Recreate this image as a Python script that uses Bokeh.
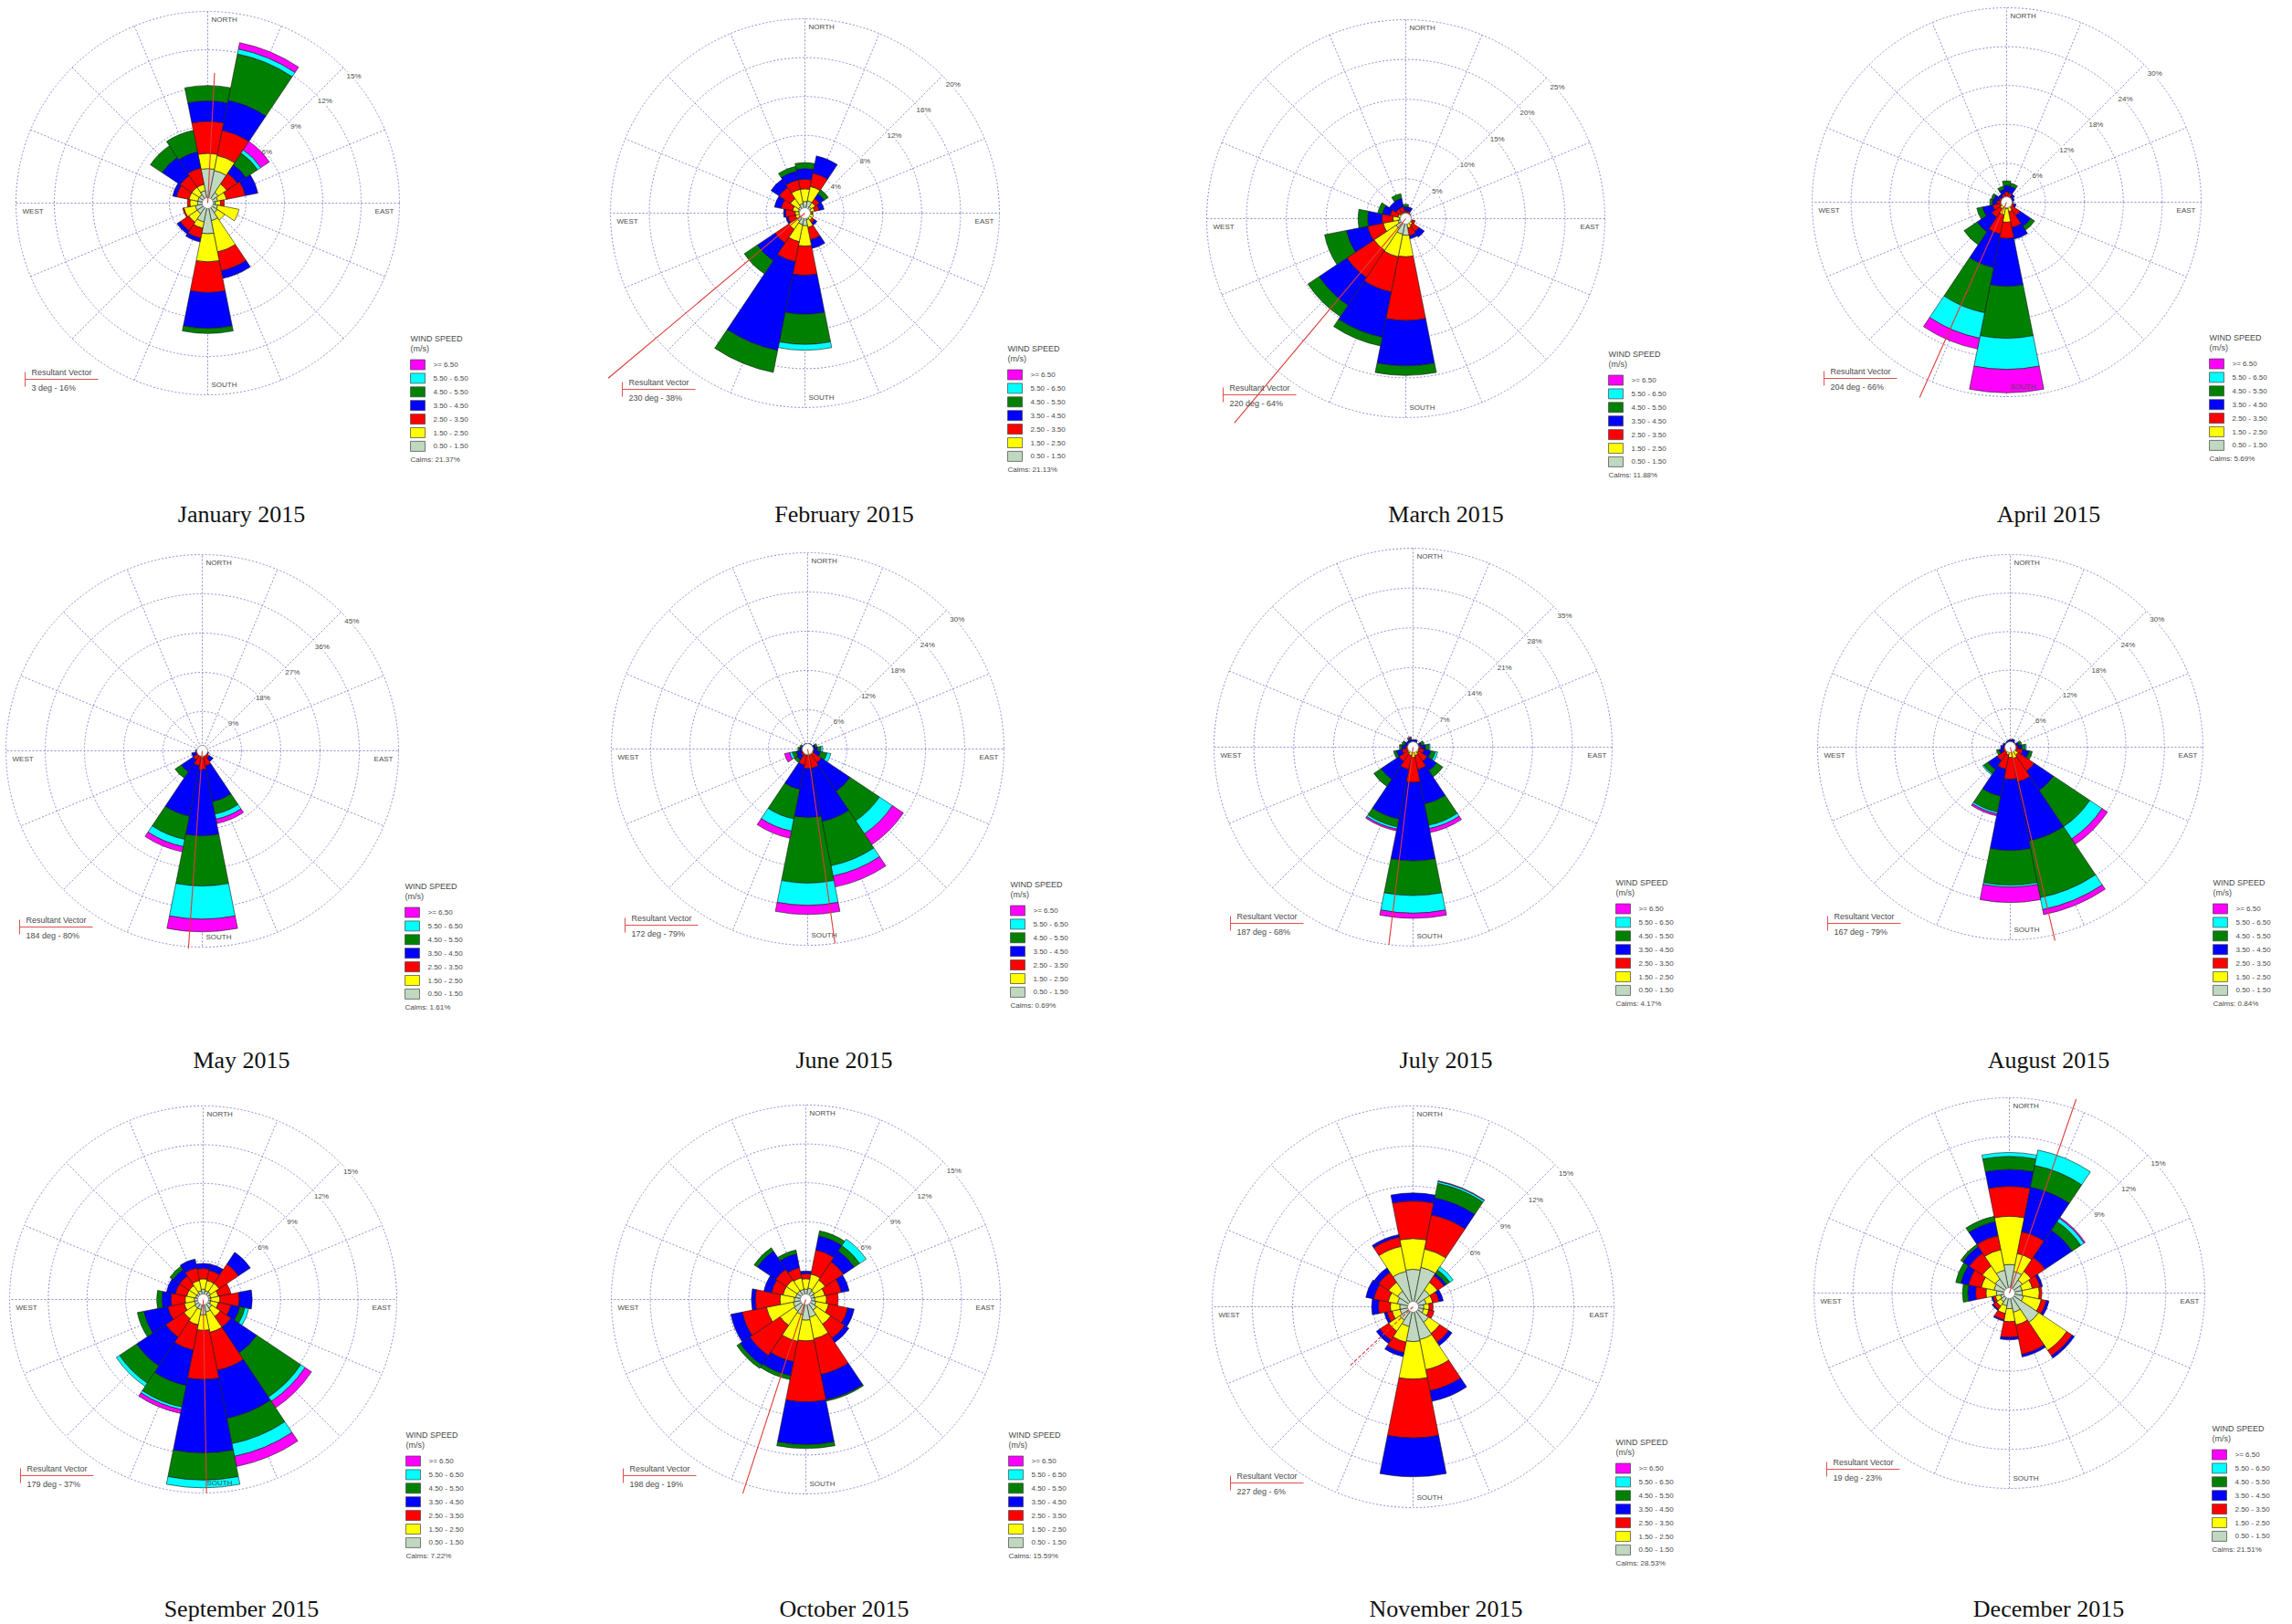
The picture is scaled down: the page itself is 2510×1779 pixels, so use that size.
import math
from bokeh.plotting import figure
from bokeh.layouts import gridplot
from bokeh.models import ColumnDataSource, Range1d
from bokeh.core.properties import value
from bokeh.embed import file_html
from bokeh.resources import INLINE

# ---------------- data ----------------
TITLES = ["January 2015", "February 2015", "March 2015", "April 2015",
          "May 2015", "June 2015", "July 2015", "August 2015",
          "September 2015", "October 2015", "November 2015", "December 2015"]
DIRECTIONS = ["N", "NNE", "NE", "ENE", "E", "ESE", "SE", "SSE",
              "S", "SSW", "SW", "WSW", "W", "WNW", "NW", "NNW"]
DIR_DEG = [0, 22.5, 45, 67.5, 90, 112.5, 135, 157.5,
           180, 202.5, 225, 247.5, 270, 292.5, 315, 337.5]
SPEED_CLASSES = ["0.50 - 1.50", "1.50 - 2.50", "2.50 - 3.50", "3.50 - 4.50",
                 "4.50 - 5.50", "5.50 - 6.50", ">= 6.50"]
CLASS_COLORS = ["#bfd8bf", "#ffff00", "#ff0000", "#0000ff", "#008000", "#00ffff", "#ff00ff"]
RING_MAX = [15, 20, 25, 30, 45, 30, 35, 30, 15, 15, 15, 15]
CALMS = [21.37, 21.13, 11.88, 5.69, 1.61, 0.69, 4.17, 0.84, 7.22, 15.59, 28.53, 21.51]
RES_DIR = [3, 230, 220, 204, 184, 172, 187, 167, 179, 198, 227, 19]
RES_PCT = [16, 38, 64, 66, 80, 79, 68, 79, 37, 19, 6, 23]
RES_LEN = [0.68, 1.32, 1.34, 1.10, 1.01, 1.0, 1.0, 1.03, 1.0, 1.05, 0.43, 1.05]  # drawn length / outer ring

# cumulative frequency (%) at the outer edge of each speed class, per direction N..NNW
JAN = [[2.7, 3.9, 6.4, 8.0, 9.2], [2.6, 3.8, 5.8, 8.2, 11.9, 12.3, 12.8],
       [1.0, 1.8, 2.8, 3.6, 4.7, 5.0, 5.8], [0.8, 1.5, 3.0, 4.0], [0.6, 1.0, 1.3],
       [0.8, 2.5], [0.9, 1.6], [1.4, 3.9, 5.4, 6.0], [2.4, 4.6, 7.0, 9.8, 10.2],
       [1.5, 2.0, 2.8, 3.1], [1.0, 1.8, 2.6, 2.9], [1.0, 1.9, 2.0], [0.8, 1.4, 1.6],
       [0.8, 1.5, 2.5, 2.8], [0.8, 1.5, 2.6, 4.3, 5.4], [1.0, 1.5, 2.8, 4.1, 5.8]]
FEB = [[1.2, 2.5, 3.5, 4.6, 5.2], [1.3, 2.8, 4.2, 6.0], [0.8, 1.3, 1.8, 2.4, 2.9],
       [0.6, 1.0, 1.5, 2.0], [0.5, 0.7, 0.8], [0.5, 0.9], [0.5, 0.9, 1.2, 1.5],
       [0.7, 1.5, 2.8, 3.7], [1.3, 3.4, 6.4, 10.4, 13.5, 14.1], [1.2, 3.0, 5.1, 14.4, 16.7],
       [1.0, 2.0, 3.7, 5.9, 7.5], [0.6, 1.0, 1.8, 2.0], [0.6, 1.0, 2.0, 2.2],
       [0.7, 1.3, 2.5, 3.2], [0.8, 1.8, 3.2, 4.2], [1.0, 2.5, 3.5, 4.4, 4.9]]
MAR = [[0.3, 0.6, 1.0, 1.5, 1.8], [0.3, 0.6, 1.0, 1.5], [0.3, 0.5, 0.8], [0.3, 0.5, 0.7],
       [0.3, 0.5, 0.6], [0.4, 0.8, 1.2], [0.4, 1.0, 2.0, 2.8], [0.5, 1.2, 2.2, 2.6],
       [2.1, 4.8, 12.8, 18.5, 19.7], [2.0, 4.9, 9.4, 15.2, 16.3], [1.5, 4.8, 8.9, 13.1, 14.8],
       [1.0, 2.9, 4.9, 7.6, 10.4], [0.8, 1.6, 3.0, 4.8, 6.0], [0.5, 1.0, 2.0, 3.0, 3.6],
       [0.4, 0.8, 1.5, 2.5], [0.4, 0.8, 1.5, 2.6, 3.2]]
APR = [[0.3, 0.8, 1.6, 2.6, 3.3], [0.3, 0.8, 1.5, 2.5, 3.0], [0.3, 0.6, 1.0, 1.5],
       [0.3, 0.5, 0.9, 1.2], [0.3, 0.5, 0.8, 1.0], [0.3, 0.7, 1.2, 1.5],
       [0.4, 1.0, 2.5, 4.5, 5.2], [0.5, 1.5, 4.0, 5.8],
       [1.0, 3.1, 5.6, 13.0, 21.0, 25.8, 29.4], [0.8, 2.0, 5.0, 10.3, 17.4, 21.4, 23.1],
       [0.5, 1.2, 2.8, 5.5, 7.9], [0.4, 1.0, 2.2, 3.8, 4.7], [0.3, 0.7, 1.5, 2.2, 2.6],
       [0.3, 0.6, 1.2, 2.0, 2.4], [0.3, 0.6, 1.0, 1.5], [0.3, 0.7, 1.3, 2.0, 2.5]]
MAY = [[0.3, 0.5, 0.8, 1.0], [0.3, 0.5, 0.8, 1.0], [0.2, 0.4, 0.6], [0.2, 0.4, 0.6],
       [0.2, 0.4, 0.6, 0.8], [0.3, 0.6, 1.0, 1.5], [0.4, 0.8, 2.0, 3.0],
       [0.6, 1.2, 3.5, 11.9, 14.8, 16.0, 17.0], [0.8, 1.6, 4.3, 19.5, 31.0, 38.6, 41.5],
       [0.6, 1.2, 3.5, 15.3, 20.7, 22.4, 23.6], [0.5, 1.0, 2.5, 5.8, 7.5],
       [0.4, 0.8, 1.5, 2.5], [0.3, 0.6, 1.0, 1.5], [0.3, 0.5, 0.8, 1.0], [0.2, 0.4, 0.6],
       [0.3, 0.5, 0.8]]
JUN = [[0.2, 0.4, 0.6, 0.8], [0.2, 0.4, 0.6, 0.9], [0.2, 0.4, 0.6, 0.9],
       [0.2, 0.5, 0.8, 1.2, 1.5], [0.3, 0.6, 1.0, 1.5, 2.0, 2.3],
       [0.3, 0.6, 1.0, 2.0, 3.0, 3.6], [0.5, 1.0, 2.5, 7.8, 13.2, 15.6, 17.6],
       [0.5, 1.0, 3.0, 11.3, 18.2, 19.8, 21.5], [0.5, 1.0, 3.0, 10.5, 20.5, 23.9, 25.3],
       [0.5, 1.0, 2.5, 6.3, 10.9, 12.8, 13.9], [0.3, 0.6, 1.2, 2.0, 2.5],
       [0.3, 0.6, 1.0, 1.8, 2.4, 2.8, 3.6], [0.2, 0.4, 0.8, 1.2, 1.5],
       [0.2, 0.4, 0.7, 1.0, 1.2], [0.2, 0.4, 0.6, 0.9], [0.2, 0.4, 0.6, 0.9]]
JUL = [[0.3, 0.6, 1.0, 1.3], [0.3, 0.6, 1.0, 1.4], [0.3, 0.5, 0.8, 1.0],
       [0.3, 0.6, 1.0, 1.5, 2.0], [0.4, 0.8, 1.4, 2.2, 2.8, 3.0],
       [0.4, 1.0, 2.0, 3.2, 4.0, 4.4], [0.5, 1.2, 3.0, 5.0, 6.3],
       [0.6, 1.5, 4.0, 10.2, 14.0, 14.6, 15.3], [0.7, 1.8, 6.2, 20.0, 26.1, 29.2, 30.1],
       [0.6, 1.5, 4.0, 12.9, 14.3, 14.7, 15.0], [0.5, 1.2, 3.0, 6.8, 8.3],
       [0.4, 0.9, 2.0, 3.0, 3.5], [0.3, 0.7, 1.3, 2.0, 2.4], [0.3, 0.6, 1.0, 1.6, 2.0],
       [0.3, 0.6, 1.0, 1.4], [0.3, 0.6, 1.0, 1.4, 1.6, 1.7, 1.9]]
AUG = [[0.3, 0.6, 0.9, 1.2], [0.3, 0.6, 1.0, 1.3], [0.3, 0.5, 0.8, 1.0],
       [0.3, 0.6, 1.0, 1.4, 1.8], [0.3, 0.7, 1.2, 1.8, 2.3, 2.5],
       [0.4, 1.0, 2.0, 3.0, 3.5], [0.6, 1.5, 4.5, 8.1, 14.9, 17.2, 18.2],
       [0.6, 1.8, 5.5, 14.9, 23.9, 25.8, 26.6], [0.6, 1.6, 5.0, 16.1, 21.5, 21.8, 24.2],
       [0.5, 1.2, 3.5, 7.8, 10.3, 10.6, 10.9], [0.4, 1.0, 2.5, 4.2, 5.0, 5.2],
       [0.3, 0.7, 1.2, 1.8, 2.2], [0.3, 0.6, 1.0, 1.5], [0.3, 0.5, 0.8, 1.2],
       [0.3, 0.5, 0.8, 1.0], [0.3, 0.5, 0.8, 1.1]]
SEP = [[0.8, 1.6, 2.4, 2.8], [0.7, 1.5, 2.3, 2.8], [0.7, 1.5, 3.3, 4.4], [0.6, 1.2, 2.2],
       [0.6, 1.3, 2.8, 3.8], [0.6, 1.2, 2.2, 2.9, 3.3, 3.6],
       [0.8, 1.6, 2.6, 5.0, 9.1, 9.5, 10.1], [1.0, 2.6, 5.6, 9.4, 11.4, 12.4, 13.2],
       [1.2, 2.4, 6.2, 11.9, 14.0, 14.6], [0.8, 2.0, 4.0, 6.8, 8.5, 8.7, 9.0],
       [0.8, 1.8, 3.5, 6.2, 7.8, 8.1], [0.7, 1.5, 2.8, 4.7, 5.2], [0.7, 1.4, 2.5, 3.2, 3.6],
       [0.6, 1.3, 2.2, 2.9], [0.6, 1.3, 2.2, 2.8, 3.1], [0.7, 1.5, 2.5, 3.2]]
OCT = [[0.8, 1.6, 2.0, 2.2], [0.9, 2.0, 3.9, 5.0, 5.4], [0.8, 1.8, 3.5, 4.5, 5.0, 5.6],
       [0.7, 1.5, 2.8, 3.4], [0.7, 1.6, 2.5], [0.8, 1.8, 3.3, 3.8], [1.0, 2.3, 3.6, 4.0],
       [1.4, 3.1, 5.9, 7.9, 8.0], [1.6, 3.2, 7.9, 11.2, 11.5], [1.2, 3.3, 4.9, 6.0, 6.3],
       [1.1, 2.4, 5.2, 6.1, 6.4], [1.0, 3.1, 5.0, 5.9], [0.9, 2.0, 3.9, 4.2],
       [0.8, 1.8, 2.7, 3.3], [0.8, 1.8, 2.8, 4.5, 4.8], [0.8, 1.7, 2.5, 3.6, 3.9]]
NOV = [[2.8, 5.1, 7.9, 8.5], [3.0, 4.4, 7.0, 8.3, 9.4, 9.55, 9.6],
       [1.5, 2.2, 2.8, 3.0, 3.3, 3.6], [1.0, 1.5, 2.0, 2.3], [0.8, 1.2, 1.5],
       [0.8, 1.2, 1.6], [1.4, 2.4, 3.2, 3.5], [2.5, 4.8, 6.4, 7.2], [2.6, 5.4, 9.8, 12.7],
       [1.5, 2.7, 3.5, 3.8], [1.2, 2.2, 3.0, 3.3], [1.0, 1.6, 2.0, 2.2], [1.0, 1.7, 2.6, 3.1],
       [1.2, 1.9, 3.0, 3.6], [1.4, 2.2, 3.1, 3.5], [2.7, 4.6, 5.3, 5.5]]
DEC = [[2.2, 5.9, 8.2, 9.5, 10.5, 10.8], [1.7, 3.1, 4.8, 8.3, 10.0, 11.2],
       [1.2, 2.0, 3.3, 5.8, 6.6, 6.9, 7.0], [1.0, 1.8, 2.4, 2.6], [1.0, 2.3, 2.5],
       [1.1, 2.5, 2.9, 3.1], [2.7, 5.3, 5.8, 6.0], [1.5, 2.5, 4.8, 5.0], [1.2, 2.2, 3.4, 3.6],
       [1.0, 1.6, 2.1, 2.2], [0.8, 1.2, 1.5, 1.6], [0.7, 1.1, 1.3, 1.4],
       [1.0, 1.8, 2.6, 3.2, 3.6], [1.2, 2.2, 3.2, 3.8, 4.2], [1.3, 2.5, 3.7, 4.3, 4.5],
       [1.8, 3.4, 4.5, 5.6, 6.0]]
MONTH_DATA = [JAN, FEB, MAR, APR, MAY, JUN, JUL, AUG, SEP, OCT, NOV, DEC]

# ---------------- layout / style ----------------
COL_W = 623
ROW_H = [580, 597, 600]
PANEL_CX = [227, 258, 293, 328, 221, 261, 301, 332, 222, 259, 301, 331]
PANEL_CY = [222, 233, 239, 221, 242, 240, 238, 238, 246, 246, 254, 239]
PANEL_R = [210, 213, 218, 213, 215, 215, 218, 211, 212, 213, 220, 214]
CAPTION_X = [264, 301, 337, 374]
CAPTION_Y = [563, 581, 585]
VECTOR_DASH = ["solid"] * 10 + ["4 2", "solid"]
GRID_COLOR = "#8f8fd0"
TXT = "#4a4a4a"
SANS = value("Liberation Sans")
SERIF = value("Liberation Serif")


def make_panel(i):
    W, H = COL_W, ROW_H[i // 4]
    cx, cy, R, m = PANEL_CX[i], PANEL_CY[i], PANEL_R[i], RING_MAX[i]
    k = R / m  # px per percent

    def P(dx, dy):
        return dx / k, -dy / k

    p = figure(width=W, height=H, output_backend="svg", toolbar_location=None, tools="",
               x_range=Range1d(-cx / k, (W - cx) / k), y_range=Range1d(-(H - cy) / k, cy / k),
               x_axis_location=None, y_axis_location=None, min_border=0)
    p.grid.visible = False
    p.outline_line_color = None

    # rings and spokes
    rings = [m * j / 5 for j in range(1, 6)]
    p.circle(x=[0] * 5, y=[0] * 5, radius=rings, fill_color=None,
             line_color=GRID_COLOR, line_dash="2 2", line_width=1)
    sx = [m * math.sin(math.radians(d)) for d in DIR_DEG]
    sy = [m * math.cos(math.radians(d)) for d in DIR_DEG]
    p.segment(x0=[0] * 16, y0=[0] * 16, x1=sx, y1=sy, line_color=GRID_COLOR,
              line_dash="2 2", line_width=1)

    # ring labels
    la = math.radians(49)
    lx = [(r + 2 / k) * math.sin(la) for r in rings]
    ly = [(r + 2 / k) * math.cos(la) for r in rings]
    p.text(x=lx, y=ly, text=[f"{int(round(r))}%" for r in rings], text_font=SANS,
           text_font_size="8px", text_color=TXT, text_align="center", text_baseline="middle",
           background_fill_color="white")

    # wedges
    ir, orr, sa, ea, col = [], [], [], [], []
    for d, cum in zip(DIR_DEG, MONTH_DATA[i]):
        prev = 0.0
        for j, c in enumerate(cum):
            if c > prev:
                ir.append(prev)
                orr.append(c)
                sa.append(math.radians(90 - d - 11.25))
                ea.append(math.radians(90 - d + 11.25))
                col.append(CLASS_COLORS[j])
            prev = c
    src = ColumnDataSource(dict(ir=ir, orr=orr, sa=sa, ea=ea, col=col))
    p.annular_wedge(x=0, y=0, inner_radius="ir", outer_radius="orr", start_angle="sa",
                    end_angle="ea", fill_color="col", line_color="#1a1a1a", line_width=0.6,
                    source=src)
    p.circle(x=[0], y=[0], radius=[6 / k], fill_color="white", line_color="#777777",
             line_width=0.8)

    # resultant vector
    L = RES_LEN[i] * m
    a = math.radians(RES_DIR[i])
    p.segment(x0=[0], y0=[0], x1=[L * math.sin(a)], y1=[L * math.cos(a)],
              line_color="#e03a3a", line_width=1.1, line_dash=VECTOR_DASH[i])

    # direction labels
    nx, ny = P(4, -R + 9)
    sxl, syl = P(4, R - 11)
    wx, wy = P(-R + 7, 9)
    ex, ey = P(R - 6, 9)
    p.text(x=[nx, sxl, wx], y=[ny, syl, wy], text=["NORTH", "SOUTH", "WEST"], text_font=SANS,
           text_font_size="8px", text_color=TXT, text_align="left", text_baseline="middle")
    p.text(x=[ex], y=[ey], text=["EAST"], text_font=SANS, text_font_size="8px",
           text_color=TXT, text_align="right", text_baseline="middle")

    # resultant vector block
    tx, ty1 = P(-193, 185)
    _, ty2 = P(-193, 202)
    p.text(x=[tx, tx], y=[ty1, ty2], text=["Resultant Vector", f"{RES_DIR[i]} deg - {RES_PCT[i]}%"],
           text_font=SANS, text_font_size="9px", text_color=TXT, text_align="left",
           text_baseline="middle")
    hx0, hy = P(-200, 193)
    hx1, _ = P(-120, 193)
    _, vy0 = P(0, 185)
    _, vy1 = P(0, 201)
    p.segment(x0=[hx0, hx0], y0=[hy, vy0], x1=[hx1, hx0], y1=[hy, vy1],
              line_color="#e05050", line_width=1)

    # legend
    gx, gy1 = P(222, 148)
    _, gy2 = P(222, 159)
    p.text(x=[gx, gx], y=[gy1, gy2], text=["WIND SPEED", "(m/s)"], text_font=SANS,
           text_font_size="9px", text_color=TXT, text_align="left", text_baseline="middle")
    order = list(range(6, -1, -1))
    bx = [(222 + 8) / k] * 7
    by = [-(177 + 14.9 * n) / k for n in range(7)]
    p.rect(x=bx, y=by, width=16 / k, height=11 / k, fill_color=[CLASS_COLORS[o] for o in order],
           line_color="#444444", line_width=0.7)
    p.text(x=[247 / k] * 7, y=by, text=[SPEED_CLASSES[o] for o in order], text_font=SANS,
           text_font_size="8px", text_color=TXT, text_align="left", text_baseline="middle")
    cxl, cyl = P(222, 281)
    p.text(x=[cxl], y=[cyl], text=[f"Calms: {CALMS[i]:.2f}%"], text_font=SANS,
           text_font_size="8px", text_color=TXT, text_align="left", text_baseline="middle")

    # caption
    capx, capy = P(CAPTION_X[i % 4] - cx, CAPTION_Y[i // 4] - cy)
    p.text(x=[capx], y=[capy], text=[TITLES[i]], text_font=SERIF, text_font_size="26px",
           text_color="#111111", text_align="center", text_baseline="middle")
    return p


figs = [make_panel(i) for i in range(12)]
grid = gridplot([figs[0:4], figs[4:8], figs[8:12]], toolbar_location=None)

open("out.html", "w").write(file_html(grid, INLINE))
